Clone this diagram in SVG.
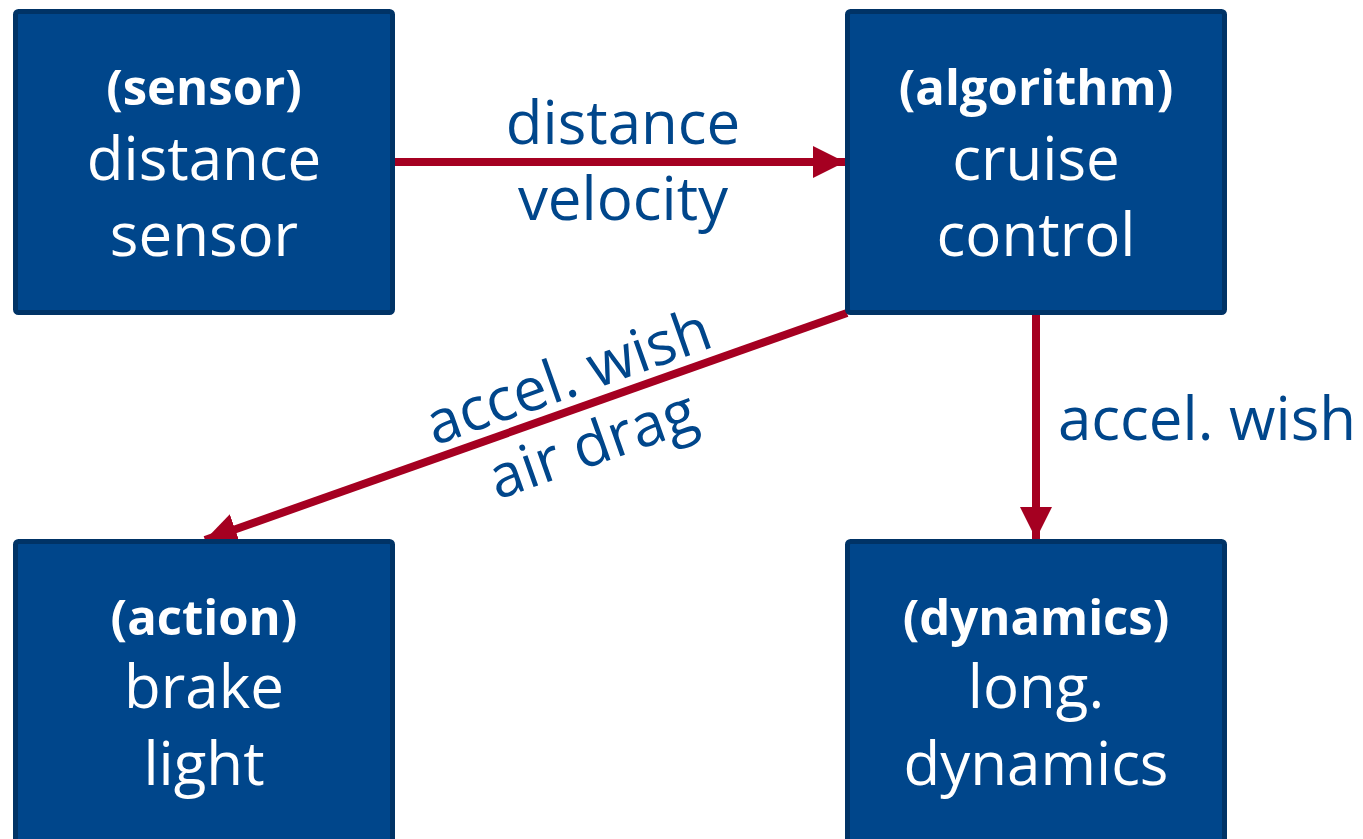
<svg xmlns="http://www.w3.org/2000/svg" width="1363" height="839" viewBox="0 0 1363 839">
<style>
.box{fill:#00468B;stroke:#003366;stroke-width:5}
.t{font-family:"Open Sans","Noto Sans",sans-serif;fill:#fff;text-anchor:middle;font-size:60px}
.b{font-weight:bold;font-size:49px}
.l{font-family:"Open Sans","Noto Sans",sans-serif;fill:#00468B;font-size:60px}
.c{stroke:#A50021;stroke-width:8;fill:none}
</style>
<defs>
<marker id="ah" markerUnits="userSpaceOnUse" markerWidth="34" markerHeight="34" viewBox="0 0 34 34" refX="32" refY="17" orient="auto">
<path d="M0,1 L32,17 L0,33 Z" fill="#A50021"/>
</marker>
</defs>
<g id="connectors">
<line class="c" x1="395" y1="162" x2="845" y2="162" marker-end="url(#ah)"/>
<line class="c" x1="847" y1="313" x2="205" y2="540" marker-end="url(#ah)"/>
<line class="c" x1="1036" y1="315" x2="1036" y2="539" marker-end="url(#ah)"/>
<text class="l" x="623" y="144" text-anchor="middle">distance</text>
<text class="l" x="623" y="220" text-anchor="middle">velocity</text>
<text class="l" x="1058" y="440">accel. wish</text>
<g transform="translate(575,396) rotate(-19.5)">
<text class="l" x="0" y="0" text-anchor="middle">accel. wish</text>
<text class="l" x="0" y="72" text-anchor="middle">air drag</text>
</g>
</g>
<g id="sensor">
<rect class="box" x="15.500" y="11.500" width="377" height="301" rx="3"/>
<text class="t b" x="204" y="105">(sensor)</text>
<text class="t" x="204" y="180">distance</text>
<text class="t" x="204" y="256">sensor</text>
</g>
<g id="algorithm">
<rect class="box" x="847.500" y="11.500" width="377" height="301" rx="3"/>
<text class="t b" x="1036" y="105">(algorithm)</text>
<text class="t" x="1036" y="180">cruise</text>
<text class="t" x="1036" y="256">control</text>
</g>
<g id="action">
<rect class="box" x="15.500" y="541.500" width="377" height="310" rx="3"/>
<text class="t b" x="204" y="635">(action)</text>
<text class="t" x="204" y="708">brake</text>
<text class="t" x="204" y="785">light</text>
</g>
<g id="dynamics">
<rect class="box" x="847.500" y="541.500" width="377" height="310" rx="3"/>
<text class="t b" x="1036" y="635">(dynamics)</text>
<text class="t" x="1036" y="708">long.</text>
<text class="t" x="1036" y="785">dynamics</text>
</g>
</svg>
